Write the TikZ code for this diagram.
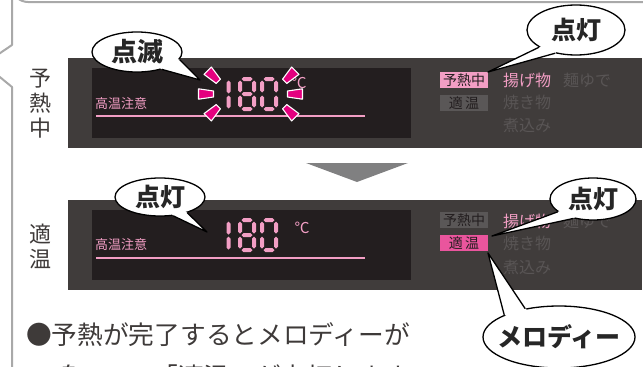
\documentclass[tikz,border=0pt]{standalone}
\usepackage{fontspec}
\setmainfont{Noto Sans CJK JP}
\usetikzlibrary{shapes.geometric,calc}
\definecolor{framegray}{HTML}{A9A9A9}
\definecolor{panel}{HTML}{403C3B}
\definecolor{lcd}{HTML}{231E1F}
\definecolor{lcdpink}{HTML}{F29EC4}
\definecolor{blink}{HTML}{E4007F}
\definecolor{boxgray}{HTML}{5A5757}
\definecolor{hotpink}{HTML}{EA559D}
\definecolor{dimtext}{HTML}{595555}
\definecolor{arrowgray}{HTML}{808081}
\definecolor{bodytext}{HTML}{3E3A39}
\tikzset{
  bubble/.style={ellipse, draw=black, line width=1.3pt, fill=white, inner sep=0pt},
  bubbletext/.style={inner sep=0pt, font=\bfseries\fontsize{25}{25}\selectfont, text=black!85},
  tailline/.style={draw=black, line width=1.3pt, line join=round},
  lbox/.style={minimum width=48pt, minimum height=16pt, inner sep=0pt, font=\fontsize{14}{14}\selectfont, text=lcd},
  modetext/.style={font=\fontsize{16}{16}\selectfont, inner sep=0pt, anchor=west},
  lcdlabel/.style={font=\fontsize{13}{13}\selectfont, inner sep=0pt, anchor=west, text=lcdpink},
  sidelabel/.style={font=\fontsize{22}{25}\selectfont, align=center, inner sep=0pt, text=bodytext},
  bodyline/.style={font=\fontsize{25.7}{26}\selectfont, inner sep=0pt, anchor=west, text=bodytext},
  degree/.style={font=\fontsize{15}{15}\selectfont, inner sep=0pt, text=lcdpink},
  blinkmark/.style={fill=blink, draw=white, line width=1.1pt, line join=round},
}
\newcommand\lcdh[3]{\fill[lcdpink] (#1,#3) -- (#1+2,#3-2) -- (#2-2,#3-2) -- (#2,#3) -- (#2-2,#3+2) -- (#1+2,#3+2) -- cycle;}
\newcommand\lcdv[3]{\fill[lcdpink] (#1,#2) -- (#1+2,#2+2) -- (#1+2,#3-2) -- (#1,#3) -- (#1-2,#3-2) -- (#1-2,#2+2) -- cycle;}
\newcommand\digone[2]{\lcdv{#1}{#2+3.5}{#2+16.5}\lcdv{#1}{#2+18.5}{#2+31.5}}
\newcommand\digeight[2]{%
  \lcdh{#1+3.5}{#1+14.5}{#2+2}\lcdh{#1+3.5}{#1+14.5}{#2+17}\lcdh{#1+3.5}{#1+14.5}{#2+32}%
  \lcdv{#1+2}{#2+3.5}{#2+15.5}\lcdv{#1+16}{#2+3.5}{#2+15.5}%
  \lcdv{#1+2}{#2+18.5}{#2+30.5}\lcdv{#1+16}{#2+18.5}{#2+30.5}}
\newcommand\digzero[2]{%
  \lcdh{#1+3.5}{#1+14.5}{#2+2}\lcdh{#1+3.5}{#1+14.5}{#2+32}%
  \lcdv{#1+2}{#2+3.5}{#2+15.5}\lcdv{#1+16}{#2+3.5}{#2+15.5}%
  \lcdv{#1+2}{#2+18.5}{#2+30.5}\lcdv{#1+16}{#2+18.5}{#2+30.5}}
\newcommand\bmark[3]{\begin{scope}[shift={(#1,#2)},rotate=#3]
  \draw[blinkmark] (-7.5,-3) -- (7.5,-5.2) -- (7.5,5.2) -- (-7.5,3) -- cycle;\end{scope}}
\newcommand\bubtail[4]{%
  \fill[white] (#1.center) -- (#1.#2) -- (#4) -- (#1.#3) -- cycle;
  \draw[tailline] (#1.#2) -- (#4) -- (#1.#3);}
\begin{document}
\begin{tikzpicture}[x=1pt,y=-1pt]
\useasboundingbox (0,0) rectangle (643,367);
\clip (0,0) rectangle (643,367);
% frame
\draw[framegray, line width=2pt, line join=round]
  (650,2) -- (28,2) arc[start angle=90, end angle=180, radius=16] -- (12,45) -- (-16,64) -- (12,87) -- (12,380);
% panels
\fill[panel] (68,58) rectangle (642,148);
\fill[lcd] (92,68) rectangle (411,138);
\fill[panel] (68,200) rectangle (642,290);
\fill[lcd] (92,210) rectangle (411,280);
% LCD content panel 1
\node[lcdlabel] (hot1) at (95,104) {高温注意};
\draw[lcdpink, line width=2.6pt] (96,116) -- (365,116);
\node[degree] (deg1) at (299,83) {℃};
\digone{228.5}{77}\digeight{238}{77}\digzero{260}{77}
\bmark{213}{76}{135}\bmark{206}{94}{180}\bmark{213}{112}{225}
\bmark{290}{76}{45}\bmark{295}{94}{0}\bmark{290}{112}{-45}
% LCD content panel 2
\node[lcdlabel] (hot2) at (95,245) {高温注意};
\draw[lcdpink, line width=2.6pt] (96,258) -- (365,258);
\node[degree] (deg2) at (302,228) {℃};
\digone{228.5}{218}\digeight{238}{218}\digzero{260}{218}
% right labels panel 1
\node[lbox, fill=lcdpink] (pre1) at (464,80) {予熱中};
\node[lbox, fill=boxgray] (ok1) at (464,103) {適\,温};
\node[modetext, text=lcdpink] (age1) at (503,80) {揚げ物};
\node[modetext, text=dimtext] (men1) at (563,80) {麺ゆで};
\node[modetext, text=dimtext] (yaki1) at (503,102) {焼き物};
\node[modetext, text=dimtext] (ni1) at (503,125) {煮込み};
% right labels panel 2
\node[lbox, fill=boxgray] (pre2) at (464,220) {予熱中};
\node[lbox, fill=hotpink] (ok2) at (464,243) {適\,温};
\node[modetext, text=lcdpink] (age2) at (503,221) {揚げ物};
\node[modetext, text=dimtext] (men2) at (563,221) {麺ゆで};
\node[modetext, text=dimtext] (yaki2) at (503,243) {焼き物};
\node[modetext, text=dimtext] (ni2) at (503,267) {煮込み};
% arrow
\fill[arrowgray] (306,163) -- (408,163) -- (357,182) -- cycle;
% side labels
\node[sidelabel] (side1) at (40,104) {予\\熱\\中};
\node[sidelabel] (side2) at (40,246) {適\\温};
% bubbles
\coordinate (t1) at (200,80);
\node[bubble, minimum width=90pt, minimum height=40pt] (b1) at (137,52) {};
\bubtail{b1}{-10}{-35}{t1}
\node[bubbletext, font=\bfseries\fontsize{26}{26}\selectfont] (b1t) at (b1.center) {点滅};
\coordinate (t2) at (488,72);
\node[bubble, minimum width=98pt, minimum height=50pt] (b2) at (576,30) {};
\bubtail{b2}{205}{228}{t2}
\node[bubbletext] (b2t) at (b2.center) {点灯};
\coordinate (t3) at (207,232);
\node[bubble, minimum width=90pt, minimum height=38pt] (b3) at (160,197) {};
\bubtail{b3}{-30}{-55}{t3}
\node[bubbletext] (b3t) at (b3.center) {点灯};
\coordinate (t4) at (492,236);
\node[bubble, minimum width=86pt, minimum height=42pt] (b4) at (593,199) {};
\bubtail{b4}{200}{225}{t4}
\node[bubbletext] (b4t) at (b4.center) {点灯};
\coordinate (t5) at (488,253);
\node[bubble, minimum width=152pt, minimum height=62pt] (b5) at (559,337) {};
\bubtail{b5}{140}{158}{t5}
\node[bubbletext] (b5t) at (b5.center) {メロディー};
% body text
\node[bodyline] (line1) at (26,335) {●予熱が完了するとメロディーが};
\node[bodyline] (line2) at (52,377) {鳴って、「適温」が点灯します。};
\end{tikzpicture}
\end{document}
